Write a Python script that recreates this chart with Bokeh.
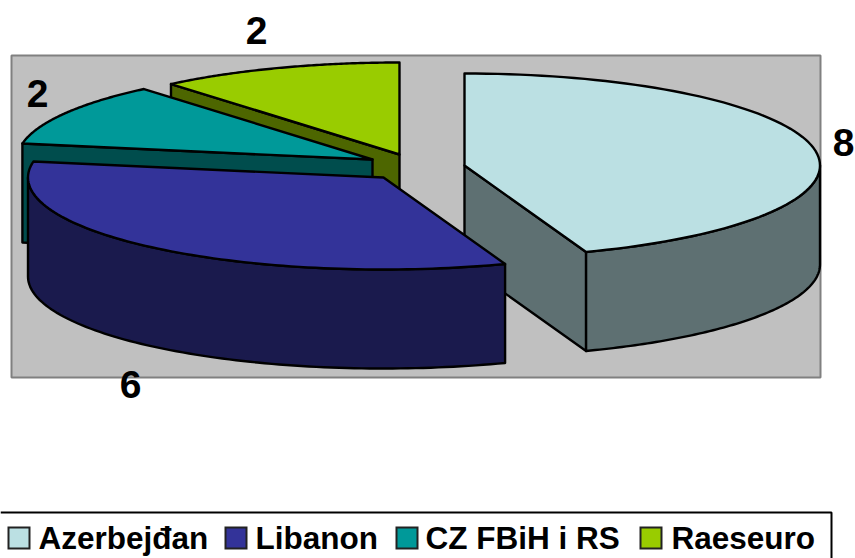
import numpy as np
from bokeh.plotting import figure
from bokeh.core.properties import value
from bokeh.embed import file_html
from bokeh.resources import INLINE

categories = ["Azerbejđan", "Libanon", "CZ FBiH i RS", "Raeseuro"]
counts = [8, 6, 2, 2]
top_colors = ["#BBE0E3", "#333399", "#009999", "#99CC00"]
side_colors = ["#5E7072", "#1A1A4D", "#004D4D", "#4D6600"]

# layout (pixels of the picture, y downwards)
apex_x = [464, 383, 372, 399]
apex_y = [165, 177, 159, 154]
RX, RY, DEPTH = 355.5, 92, 99
label_x = [843, 130, 37, 256]
label_y = [142, 384, 93, 30]
legend_marker_x = [8, 225, 396, 640]
legend_text_x = [38, 255, 425, 671]
draw_order = [3, 2, 0, 1]

p = figure(width=855, height=558, x_range=(0, 855), y_range=(558, 0),
           output_backend="svg", toolbar_location=None, min_border=0,
           margin=(0, 0, 0, 0), background_fill_color="white",
           border_fill_color="white", outline_line_color=None)
p.axis.visible = False
p.grid.visible = False

p.quad(left=[11], right=[820], top=[55], bottom=[377], fill_color="#C0C0C0",
       line_color="#808080", line_width=2)

total = sum(counts)
edges = np.concatenate([[0], np.cumsum(counts)]) / total * 2 * np.pi


def rim(cx, cy, a, b):
    t = np.linspace(a, b, 90)
    return cx + RX * np.sin(t), cy - RY * np.cos(t)


def style(**k):
    return dict(line_color="black", line_width=2.4, line_join="round", **k)


for i in draw_order:
    a, b = edges[i], edges[i + 1]
    cx, cy = apex_x[i], apex_y[i]
    for ang, visible in ((a, np.sin(a) < -1e-6), (b, np.sin(b) > 1e-6)):
        if visible:
            ex, ey = cx + RX * np.sin(ang), cy - RY * np.cos(ang)
            p.patch([cx, ex, ex, cx], [cy, ey, ey + DEPTH, cy + DEPTH],
                    fill_color=side_colors[i], **style())
    lo, hi = max(a, np.pi / 2), min(b, 3 * np.pi / 2)
    if hi > lo:
        x, y = rim(cx, cy, lo, hi)
        p.patch(np.r_[x, x[::-1]], np.r_[y, y[::-1] + DEPTH],
                fill_color=side_colors[i], **style())
    x, y = rim(cx, cy, a, b)
    p.patch(np.r_[cx, x], np.r_[cy, y], fill_color=top_colors[i], **style())

p.text(x=label_x, y=label_y, text=[str(c) for c in counts], text_align="center",
       text_baseline="middle", text_font=value("Liberation Sans"),
       text_font_style="bold", text_font_size="39px", text_color="black")

# legend frame: its left and bottom edges lie outside the picture
p.line([0, 831, 831], [512, 512, 558], line_color="black", line_width=2)
p.quad(left=legend_marker_x, right=[m + 21 for m in legend_marker_x],
       top=[527] * 4, bottom=[548] * 4, fill_color=top_colors,
       line_color="#222222", line_width=2, line_join="miter")
p.text(x=legend_text_x, y=[537] * 4, text=categories, text_align="left",
       text_baseline="middle", text_font=value("Liberation Sans"),
       text_font_style="bold", text_font_size="31.5px", text_color="black")

open("out.html", "w").write(file_html(p, INLINE))
